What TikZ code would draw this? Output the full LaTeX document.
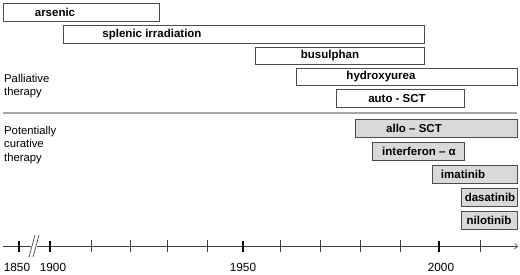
\documentclass[tikz,border=0pt]{standalone}
\usepackage{fontspec}
\setmainfont{Liberation Sans}
\usetikzlibrary{arrows.meta}
\begin{document}
\begin{tikzpicture}[x=1pt,y=-1pt,
  pbox/.style={draw=black!70, line width=0.8pt, fill=white, inner sep=0pt, outer sep=0pt},
  cbox/.style={pbox, fill=black!15},
  lbl/.style={font=\fontsize{11.5}{13}\selectfont\bfseries, inner sep=0pt},
  side/.style={font=\fontsize{11.3}{13.5}\selectfont, align=left, anchor=west, inner sep=0pt},
  year/.style={font=\fontsize{11.8}{13}\selectfont, inner sep=0pt},
  thin tick/.style={draw=black!75, line width=0.7pt},
  thick tick/.style={draw=black, line width=2.2pt}]
\useasboundingbox (0,0) rectangle (520,274);
% palliative boxes
\node[pbox, minimum width=156pt, minimum height=18pt] (ars) at (81,12) {};
\node[lbl] (arst) at (55,12.5) {arsenic};
\node[pbox, minimum width=361pt, minimum height=18pt] (spl) at (243.5,34) {};
\node[lbl] (splt) at (152,34.5) {splenic irradiation};
\node[pbox, minimum width=169pt, minimum height=17pt] (bus) at (339.5,55.5) {};
\node[lbl] (bust) at (330,56) {busulphan};
\node[pbox, minimum width=221pt, minimum height=17pt] (hyd) at (406.5,76.5) {};
\node[lbl] (hydt) at (381,77) {hydroxyurea};
\node[pbox, minimum width=128pt, minimum height=18pt] (auto) at (400,98) {};
\node[lbl] (autot) at (397,98.5) {auto - SCT};
% separator
\coordinate (sepa) at (3,113);
\coordinate (sepb) at (517,113);
\draw[draw=black!35, line width=1.6pt] (sepa) -- (sepb);
% curative boxes
\node[cbox, minimum width=162pt, minimum height=18pt] (allo) at (436,128) {};
\node[lbl] (allot) at (414,128.5) {allo -- SCT};
\node[cbox, minimum width=92pt, minimum height=18pt] (ifn) at (418,151) {};
\node[lbl] (ifnt) at (419,151.5) {interferon -- α};
\node[cbox, minimum width=85pt, minimum height=18pt] (ima) at (474.5,174) {};
\node[lbl] (imat) at (463,174.5) {imatinib};
\node[cbox, minimum width=56pt, minimum height=18pt] (das) at (489,197) {};
\node[lbl] (dast) at (490,197.5) {dasatinib};
\node[cbox, minimum width=56pt, minimum height=18pt] (nil) at (489,220) {};
\node[lbl] (nilt) at (489,220.5) {nilotinib};
% side labels
\node[side] (pal) at (4,86) {Palliative\\therapy};
\node[side] (cur) at (4,145) {Potentially\\curative\\therapy};
% axis
\coordinate (axa) at (3,246);
\coordinate (axb) at (518,246);
\draw[draw=black!75, line width=0.7pt, -{Straight Barb[length=3pt,width=6pt]}] (axa) -- (axb);
% break
\fill[white] (31,244) rectangle (37,248);
\draw[draw=black!70, line width=0.7pt] (29,257) -- (35,235) (33,257) -- (39,235);
% ticks
\foreach \x in {91,130,167,207,280,320,360,400,480}
  \draw[thin tick] (\x,240) -- (\x,252);
\foreach \x in {19,50,243,439}
  \draw[thick tick] (\x,240.5) -- (\x,251.5);
% years
\node[year] (y1850) at (17,267) {1850};
\node[year] (y1900) at (53,267) {1900};
\node[year] (y1950) at (243,267) {1950};
\node[year] (y2000) at (441,267) {2000};
\end{tikzpicture}
\end{document}
